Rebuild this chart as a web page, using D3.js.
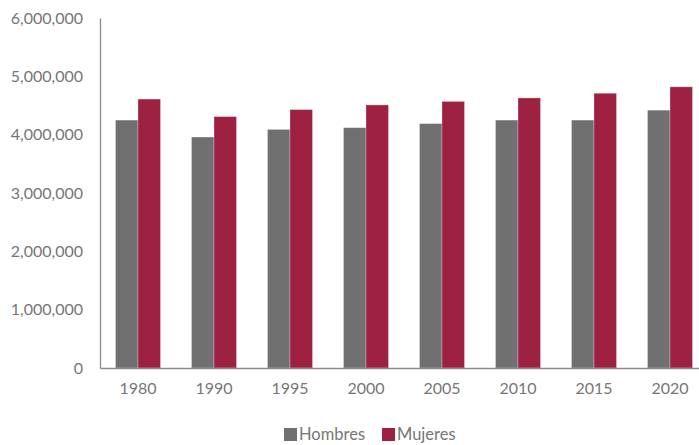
<!DOCTYPE html>
<html>
<head>
<meta charset="utf-8">
<script src="https://cdn.jsdelivr.net/npm/d3@7"></script>
<style>
  body { margin: 0; background: #fff; }
  text { font-family: Lato, "Noto Sans", sans-serif; fill: #767676; }
</style>
</head>
<body>
<div id="chart"></div>
<script>
/* DATA */
const years = ["1980", "1990", "1995", "2000", "2005", "2010", "2015", "2020"];
const hombres = [4250000, 3960000, 4090000, 4120000, 4190000, 4250000, 4250000, 4420000];
const mujeres = [4610000, 4310000, 4430000, 4510000, 4570000, 4630000, 4710000, 4820000];
const seriesNames = ["Hombres", "Mujeres"];
const yTicks = [0, 1000000, 2000000, 3000000, 4000000, 5000000, 6000000];

/* CONSTANTS */
const width = 699, height = 445;
const margin = { top: 18, bottom: 77, left: 100, right: -9 };
const colors = { Hombres: "#6f706f", Mujeres: "#9f2141" };

const svg = d3.select("#chart").append("svg")
  .attr("width", width)
  .attr("height", height);

// scales
const xScale = d3.scaleBand()
  .domain(years)
  .range([margin.left, width - margin.right])
  .paddingInner(31 / 76)
  .paddingOuter(15.5 / 76);

const xSub = d3.scaleBand()
  .domain(seriesNames)
  .range([0, xScale.bandwidth()]);

const yScale = d3.scaleLinear()
  .domain([0, 6000000])
  .range([height - margin.bottom, margin.top]);

// bars
const rows = years.map((y, i) => ({ year: y, Hombres: hombres[i], Mujeres: mujeres[i] }));

svg.append("g")
  .selectAll("g")
  .data(rows)
  .join("g")
  .attr("transform", d => `translate(${xScale(d.year)},0)`)
  .selectAll("rect")
  .data(d => seriesNames.map(k => ({ key: k, value: d[k] })))
  .join("rect")
  .attr("x", d => xSub(d.key))
  .attr("width", xSub.bandwidth())
  .attr("y", d => yScale(d.value))
  .attr("height", d => yScale(0) - yScale(d.value))
  .attr("fill", d => colors[d.key])
  .attr("stroke", "rgba(255,255,255,0.35)")
  .attr("stroke-width", 0.8);

// y axis
const yAxis = d3.axisLeft(yScale)
  .tickValues(yTicks)
  .tickSize(0)
  .tickPadding(17)
  .tickFormat(d3.format(","));

svg.append("g")
  .attr("transform", `translate(${margin.left},0)`)
  .call(yAxis)
  .call(g => g.select(".domain").attr("stroke", "#8a8a8a").attr("stroke-width", 1.3))
  .call(g => g.selectAll("text").attr("font-size", 16).style("fill", "#767676"));

// x axis
const xAxis = d3.axisBottom(xScale).tickSize(0).tickPadding(15);

svg.append("g")
  .attr("transform", `translate(0,${yScale(0)})`)
  .call(xAxis)
  .call(g => g.select(".domain").attr("stroke", "#8a8a8a").attr("stroke-width", 1.3))
  .call(g => g.selectAll("text").attr("font-size", 16).style("fill", "#767676"));

// legend
const legend = svg.append("g").attr("transform", "translate(284,434)");
const legendX = [0, 98];
seriesNames.forEach((name, i) => {
  const g = legend.append("g").attr("transform", `translate(${legendX[i]},0)`);
  g.append("rect")
    .attr("x", 0).attr("y", -6)
    .attr("width", 13).attr("height", 13)
    .attr("fill", colors[name]);
  g.append("text")
    .attr("x", 15).attr("y", 6)
    .attr("font-size", 16.5)
    .text(name);
});
</script>
</body>
</html>
